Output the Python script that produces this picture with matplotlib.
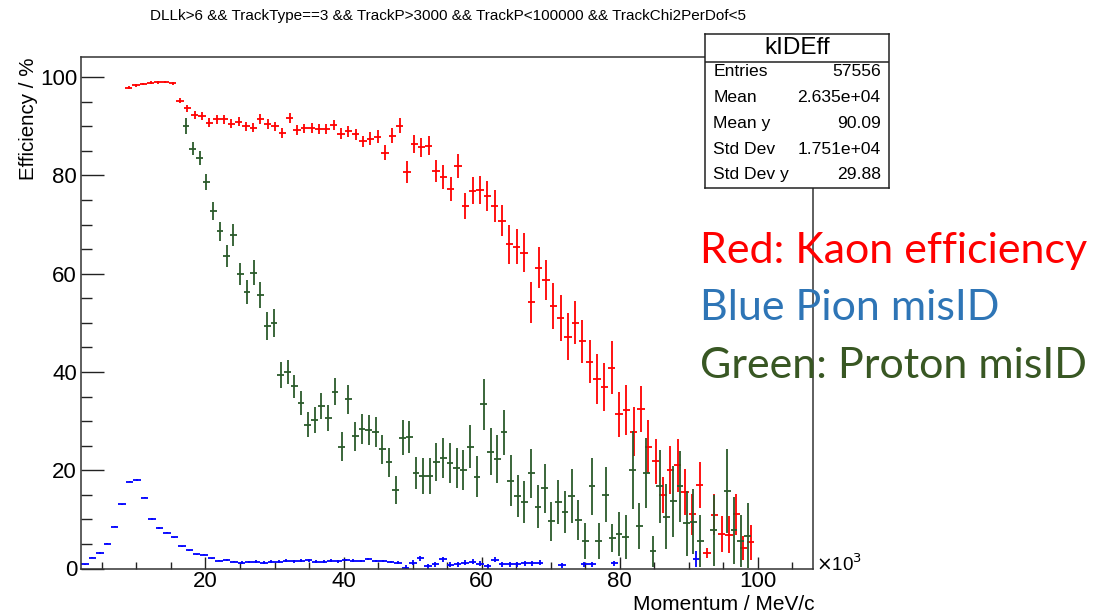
import numpy as np
import matplotlib
matplotlib.use("Agg")
import matplotlib.pyplot as plt
from matplotlib.ticker import MultipleLocator

plt.rcParams['font.family'] = ['Liberation Sans', 'DejaVu Sans']

W, H, DPI = 1118, 616, 100
nan = np.nan

# binning of each efficiency histogram (momentum in 10^3 MeV/c)
red_edges = np.linspace(2, 108, 101)
green_edges = np.linspace(2, 100, 101)
blue_edges = np.linspace(2, 110, 101)

# kaon efficiency, bins 6..91
RED_FIRST = 6
red_eff = [97.85, 98.3, 98.6, 98.87, 98.9, 98.95, 98.7, 95.2, 93.65, 92.3,
           92.1, 90.75, 91.4, 91.4, 90.5, 90.95, 89.95, 89.7, 91.4, 90.45,
           90.0, 88.55, 91.75, 89.25, 89.55, 89.7, 89.4, 89.5, 90.2, 88.5,
           89.0, 88.4, 86.9, 87.5, 87.9, 84.6, 88.05, 90.1, 80.7, 86.4,
           85.7, 86.05, 80.95, 79.7, 77.2, 81.9, 73.8, 76.9, 77.0, 75.8,
           73.8, 70.8, 66.0, 65.5, 64.3, 54.2, 61.2, 58.7, 53.4, 50.9,
           47.2, 50.0, 46.2, 42.1, 38.5, 36.9, 40.9, 31.4, 32.3, 27.8,
           32.4, 24.8, 21.8, 14.9, 20.1, 21.0, 15.6, 11.05, 17.0, 3.1,
           10.95, 7.0, 6.9, 11.0, 4.2, 5.3]
red_err = [0.25, 0.25, 0.25, 0.25, 0.25, 0.25, 0.25, 0.5, 0.7, 0.8,
           0.8, 0.9, 0.9, 0.9, 0.9, 0.9, 0.95, 0.95, 1.0, 0.95,
           0.95, 1.0, 1.0, 1.0, 1.0, 1.0, 1.0, 1.0, 1.05, 1.05,
           1.1, 1.1, 1.2, 1.3, 1.3, 1.5, 1.5, 1.5, 2.2, 1.9,
           2.0, 2.0, 2.2, 2.4, 2.5, 2.5, 2.6, 2.8, 2.9, 3.1,
           3.2, 3.2, 4.0, 3.5, 3.9, 4.2, 4.2, 4.1, 4.7, 4.7,
           4.7, 4.4, 4.4, 4.4, 5.1, 4.9, 5.3, 4.6, 5.1, 5.0,
           4.7, 5.4, 4.6, 3.7, 4.9, 5.4, 4.7, 4.2, 4.7, 1.0,
           4.2, 3.7, 3.7, 4.1, 2.4, 3.6]

# proton misID, bins 15..98
GREEN_FIRST = 15
green_eff = [90.05, 85.4, 83.6, 78.7, 72.75, 68.6, 63.6, 67.9, 59.9, 56.3,
             60.2, 55.7, 49.3, 50.0, 39.4, 40.0, 37.05, 33.7, 29.25, 30.2,
             33.1, 30.6, 36.0, 24.8, 34.4, 26.9, 28.35, 28.2, 27.8, 24.25,
             21.6, 16.0, 26.6, 26.8, 19.4, 18.8, 18.8, 21.7, 22.5, 21.5,
             20.4, 20.0, 24.8, 18.7, 33.4, 23.8, 22.35, 27.7, 17.9, 14.75,
             13.55, 19.4, 12.6, 16.3, 9.6, 13.6, 11.5, 14.7, 9.9, 5.6,
             16.7, 5.6, 15.05, 6.2, 7.0, 6.4, 20.0, 8.6, 19.4, 3.5,
             16.7, 10.5, 13.7, 16.7, 9.2, 9.5, 5.6, nan, 7.75, nan,
             15.8, 7.75, 5.6, 6.65]
green_err = [1.6, 1.3, 1.4, 1.6, 1.9, 2.0, 2.2, 2.2, 2.3, 2.4,
             2.6, 2.7, 2.8, 2.8, 2.6, 2.5, 2.4, 2.4, 2.5, 2.6,
             2.7, 2.7, 2.8, 3.0, 3.0, 3.0, 3.0, 3.0, 3.0, 3.0,
             3.0, 2.8, 3.6, 3.3, 3.3, 3.6, 3.7, 3.8, 4.0, 4.1,
             4.1, 4.1, 4.4, 4.1, 5.2, 4.8, 4.9, 4.6, 5.1, 4.3,
             4.2, 5.0, 4.4, 5.0, 4.0, 4.5, 4.2, 5.5, 4.1, 3.7,
             5.8, 3.7, 5.6, 2.9, 4.5, 4.4, 7.9, 4.7, 7.1, 3.2,
             7.5, 6.6, 7.2, 7.3, 6.6, 6.6, 5.3, nan, 7.3, nan,
             8.5, 6.8, 5.3, 6.6]

# pion misID, bins 0..82
BLUE_FIRST = 0
blue_eff = [0.85, 2.2, 3.2, 5.05, 8.5, 13.05, 17.7, 18.0, 14.4, 10.07,
            8.24, 7.3, 6.35, 4.5, 3.7, 2.9, 2.8, 2.07, 1.6, 1.7,
            1.4, 1.2, 1.3, 1.4, 1.2, 1.4, 1.4, 1.6, 1.45, 1.6,
            1.65, 1.4, 1.4, 1.6, 1.45, 1.7, 1.6, 1.5, 1.9, 1.5,
            1.5, 1.3, 1.2, 0.2, 1.2, 2.07, 0.5, 0.9, 1.9, 0.8,
            0.85, 1.2, 1.35, 1.0, 0.45, 1.8, 0.85, 0.85, 0.85, 1.05,
            1.05, 1.2, nan, nan, 0.7, nan, nan, 0.9, 0.9, nan,
            nan, 1.05, nan, nan, nan, nan, nan, nan, nan, nan,
            nan, nan, 1.9]
blue_err = [0.15] * 21 + [0.25] * 22 + [0.5] * 18 + [0.5] * 21 + [1.6]

stats_name = "kIDEff"
stats_rows = [("Entries", "57556"), ("Mean", "2.635e+04"), ("Mean y", "90.09"),
              ("Std Dev", "1.751e+04"), ("Std Dev y", "29.88")]

title = "DLLk>6 && TrackType==3 && TrackP>3000 && TrackP<100000 && TrackChi2PerDof<5"

notes = [("Red: Kaon efficiency", "#ff0000"),
         ("Blue Pion misID", "#2e75b6"),
         ("Green: Proton misID", "#385723")]


def fx(px):
    return px / W


def fy(py):
    return 1 - py / H


def draw_profile(ax, edges, first, vals, errs, color):
    centers = 0.5 * (edges[:-1] + edges[1:])
    half = 0.5 * np.diff(edges)
    vals = np.asarray(vals, dtype=float)
    errs = np.asarray(errs, dtype=float)
    idx = np.arange(first, first + len(vals))
    ok = ~np.isnan(vals)
    ax.errorbar(centers[idx][ok], vals[ok], xerr=half[idx][ok], yerr=errs[ok],
                fmt='none', ecolor=color, elinewidth=1.3, capsize=0)


def draw_stats(fig):
    box = fig.add_axes([fx(705), fy(188), fx(889) - fx(705), fy(34) - fy(188)])
    box.set_xlim(0, 1)
    box.set_ylim(0, 1)
    box.set_xticks([])
    box.set_yticks([])
    for s in box.spines.values():
        s.set_linewidth(1.1)
        s.set_color('#222222')
    sep = (188 - 62) / (188 - 34)
    box.axhline(sep, color='#222222', lw=1.1)
    box.text(0.5, (188 - 48) / 154, stats_name, ha='center', va='center', fontsize=17.5)
    for k, (name, val) in enumerate(stats_rows):
        yy = (188 - (72 + 25.7 * k)) / 154
        box.text(0.045, yy, name, ha='left', va='center', fontsize=12.6)
        box.text(0.955, yy, val, ha='right', va='center', fontsize=12.6)


def main():
    fig = plt.figure(figsize=(W / DPI, H / DPI), dpi=DPI)
    ax = fig.add_axes([fx(81.2), fy(568.5), fx(813) - fx(81.2), fy(56.7) - fy(568.5)])

    draw_profile(ax, red_edges, RED_FIRST, red_eff, red_err, '#ff0000')
    draw_profile(ax, blue_edges, BLUE_FIRST, blue_eff, blue_err, '#0000ff')
    draw_profile(ax, green_edges, GREEN_FIRST, green_eff, green_err, '#2b5a2b')

    ax.set_xlim(2, 108)
    ax.set_ylim(0, 104.15)
    ax.xaxis.set_major_locator(MultipleLocator(20))
    ax.xaxis.set_minor_locator(MultipleLocator(5))
    ax.yaxis.set_major_locator(MultipleLocator(20))
    ax.yaxis.set_minor_locator(MultipleLocator(5))
    ax.tick_params(axis='x', which='major', direction='in', length=8.4, width=1.0,
                   labelsize=16, pad=2, colors='#222222')
    ax.tick_params(axis='x', which='minor', direction='in', length=4.7, width=1.0, colors='#222222')
    ax.tick_params(axis='y', which='major', direction='in', length=16.2, width=1.0,
                   labelsize=16, pad=3, colors='#222222')
    ax.tick_params(axis='y', which='minor', direction='in', length=7.9, width=1.0, colors='#222222')
    for lbl in ax.get_xticklabels() + ax.get_yticklabels():
        lbl.set_color('black')
    for s in ax.spines.values():
        s.set_linewidth(1.1)
        s.set_color('#333333')

    fig.text(fx(448), fy(16), title, ha='center', va='center', fontsize=11)
    fig.text(fx(815), fy(604), "Momentum / MeV/c", ha='right', va='center', fontsize=15)
    fig.text(fx(28.5), fy(57), "Efficiency / %", ha='center', va='top',
             rotation=90, fontsize=14.8)
    fig.text(fx(816), fy(564), r"$\times$10$^3$", ha='left', va='center', fontsize=13.5)

    draw_stats(fig)

    for k, (txt, col) in enumerate(notes):
        fig.text(fx(700), fy(263 + 57.5 * k), txt, ha='left', va='baseline',
                 fontsize=31, color=col, family='Lato')

    fig.savefig("out.png", dpi=DPI)


if __name__ == "__main__":
    main()
